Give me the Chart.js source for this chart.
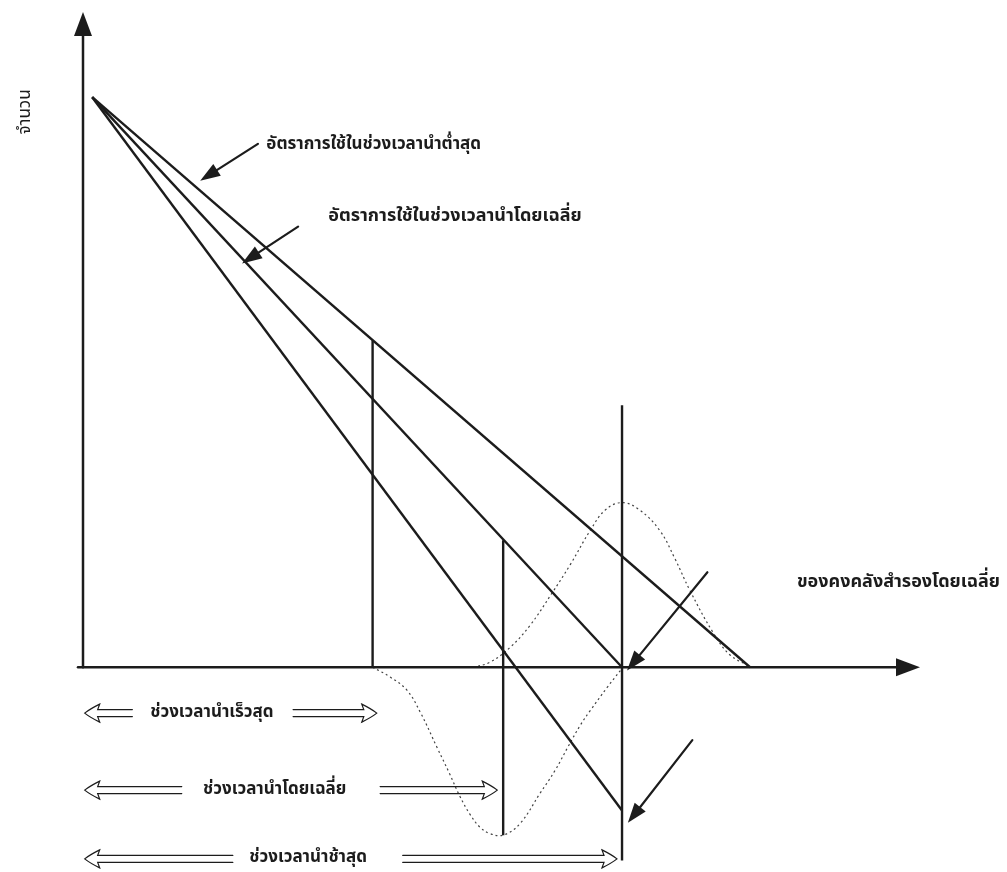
<!DOCTYPE html>
<html lang="th">
<head>
<meta charset="utf-8">
<title>ของคงคลังสำรองกับช่วงเวลานำ</title>
<script src="https://cdn.jsdelivr.net/npm/chart.js@4.4.1/dist/chart.umd.min.js"></script>
<style>
  html, body { margin: 0; padding: 0; background: #fff; }
  #wrap { position: relative; width: 1007px; height: 872px; }
</style>
</head>
<body>
<div id="wrap"><canvas id="chart"></canvas></div>
<script>
// ─── Data ──────────────────────────────────────────────────────────────────

// stock on hand when the order is placed, and where each usage rate runs out
const startPoint = { x: 1.1, y: 69.6 };
const usageEnds = [
  { x: 79.7, y: 0 },     // lowest usage rate
  { x: 64.4, y: 0 },     // average usage rate
  { x: 64.4, y: -17.5 }, // highest usage rate
];

// lead times: fastest, average, slowest
const leadTimes = [34.6, 50.2, 64.4];
const leadTopY = [39.9, 15.5, 32.0];
const leadBottomY = [0, -20.5, -23.6];

// distribution of stock left at the slowest lead time (above the axis)
const stockCurveX = [46.6, 48.6, 51.0, 53.4, 56.0, 58.2, 60.6, 62.4, 64.4, 66.5, 68.9, 70.7, 72.5, 75.3, 77.3, 79.7];
const stockCurveY = [0, 0.6, 2.4, 5.1, 9.0, 12.5, 16.7, 19.2, 20.1, 19.2, 16.7, 13.3, 9.4, 4.2, 1.5, 0.1];

// distribution of lead time (below the axis)
const leadCurveX = [34.6, 36.7, 38.7, 40.3, 42.3, 43.8, 45.0, 46.2, 47.4, 48.6, 50.2, 52.2, 54.6, 56.4, 57.9, 59.4, 60.6, 62.6, 64.2];
const leadCurveY = [0, -1.2, -2.8, -5.5, -9.8, -13.0, -15.7, -17.9, -19.5, -20.3, -20.5, -19.1, -15.4, -12.6, -9.8, -7.1, -5.3, -2.5, -0.4];

// call-out labels and their pointer arrows
const noteLabels = ["อัตราการใช้ในช่วงเวลานำต่ำสุด", "อัตราการใช้ในช่วงเวลานำโดยเฉลี่ย", "ของคงคลังสำรองโดยเฉลี่ย"];
const noteAnchors = [{ x: 21.9, y: 63.7 }, { x: 29.3, y: 54.9 }, { x: 85.3, y: 10.3 }];
const pointerFrom = [{ x: 20.9, y: 63.9 }, { x: 25.7, y: 53.8 }, { x: 74.6, y: 11.6 }, { x: 72.8, y: -8.9 }];
const pointerTo = [{ x: 14.0, y: 59.4 }, { x: 19.0, y: 49.3 }, { x: 65.0, y: -0.4 }, { x: 65.1, y: -19.0 }];

// lead time span rows under the axis
const leadLabels = ["ช่วงเวลานำเร็วสุด", "ช่วงเวลานำโดยเฉลี่ย", "ช่วงเวลานำช้าสุด"];
const leadRowY = [-5.6, -15.0, -23.4];
const leadLabelX = [15.4, 22.9, 26.9];
const leadLeftShaftEnd = [5.9, 11.8, 17.9];
const leadRightShaftStart = [25.1, 35.5, 38.2];
const leadArrowTip = [35.1, 49.5, 63.8];

const yTitle = "จำนวน";
const yTitleAt = { x: -6.7, y: 67.8 };

// ─── Helpers ───────────────────────────────────────────────────────────────

const INK = "#1c1c1c";
const THAI_FONT = '"Noto Sans Thai", "Noto Serif Thai", Loma, Garuda, "Tlwg Typo", "Noto Sans", "DejaVu Sans", sans-serif';

function zip(xs, ys) {
  return xs.map((v, i) => ({ x: v, y: ys[i] }));
}

function solidArrow(ctx, x1, y1, x2, y2, len, half) {
  const a = Math.atan2(y2 - y1, x2 - x1);
  ctx.beginPath();
  ctx.moveTo(x1, y1);
  ctx.lineTo(x2 - Math.cos(a) * len * 0.8, y2 - Math.sin(a) * len * 0.8);
  ctx.stroke();
  ctx.beginPath();
  ctx.moveTo(x2, y2);
  ctx.lineTo(x2 - Math.cos(a) * len + Math.sin(a) * half, y2 - Math.sin(a) * len - Math.cos(a) * half);
  ctx.lineTo(x2 - Math.cos(a) * len - Math.sin(a) * half, y2 - Math.sin(a) * len + Math.cos(a) * half);
  ctx.closePath();
  ctx.fill();
}

// hollow double-shaft arrow, pointing from tail to tip along a row
function hollowArrow(ctx, tail, tip, y) {
  const dir = tip > tail ? 1 : -1;
  const neck = tip - dir * 13;
  ctx.beginPath();
  ctx.moveTo(tail, y - 3.5);
  ctx.lineTo(neck, y - 3.5);
  ctx.lineTo(neck - dir * 2, y - 9);
  ctx.quadraticCurveTo(tip - dir * 5, y - 4, tip, y);
  ctx.quadraticCurveTo(tip - dir * 5, y + 4, neck - dir * 2, y + 9);
  ctx.lineTo(neck, y + 3.5);
  ctx.lineTo(tail, y + 3.5);
  ctx.stroke();
}

// ─── Diagram plugin ────────────────────────────────────────────────────────

const diagramPlugin = {
  id: "diagram",
  afterDatasetsDraw(chart) {
    const { ctx, scales } = chart;
    const px = (v) => scales.x.getPixelForValue(v);
    const py = (v) => scales.y.getPixelForValue(v);

    ctx.save();
    ctx.strokeStyle = INK;
    ctx.fillStyle = INK;
    ctx.lineCap = "round";

    // axes with arrow heads
    ctx.lineWidth = 2.5;
    solidArrow(ctx, px(0), py(0), px(0), py(scales.y.max), 24, 9);
    solidArrow(ctx, px(-0.6), py(0), px(scales.x.max), py(0), 24, 9);

    // pointers
    ctx.lineWidth = 2.2;
    pointerFrom.forEach((p, i) => {
      solidArrow(ctx, px(p.x), py(p.y), px(pointerTo[i].x), py(pointerTo[i].y), 20, 7);
    });

    // call-out text
    ctx.textBaseline = "middle";
    ctx.textAlign = "left";
    noteLabels.forEach((t, i) => {
      ctx.font = (i === 0 ? "bold 17px " : "bold 18px ") + THAI_FONT;
      ctx.fillText(t, px(noteAnchors[i].x), py(noteAnchors[i].y));
    });

    // lead time rows
    ctx.lineWidth = 1.2;
    ctx.textAlign = "center";
    ctx.font = "bold 17px " + THAI_FONT;
    leadLabels.forEach((t, i) => {
      const y = py(leadRowY[i]);
      hollowArrow(ctx, px(leadLeftShaftEnd[i]), px(0.2), y);
      hollowArrow(ctx, px(leadRightShaftStart[i]), px(leadArrowTip[i]), y);
      ctx.fillText(t, px(leadLabelX[i]), y);
    });

    // y axis title
    ctx.translate(px(yTitleAt.x), py(yTitleAt.y));
    ctx.rotate(-Math.PI / 2);
    ctx.font = "17px " + THAI_FONT;
    ctx.fillText(yTitle, 0, 0);
    ctx.restore();
  },
};

// ─── Chart ─────────────────────────────────────────────────────────────────

const solid = { borderColor: INK, borderWidth: 2.4, pointRadius: 0, showLine: true, tension: 0 };
const dotted = { borderColor: "#444", borderWidth: 1.2, borderDash: [2, 3], pointRadius: 0, showLine: true, tension: 0.4 };

const datasets = [
  ...usageEnds.map((end, i) => ({ label: "usage " + i, data: [startPoint, end], ...solid })),
  ...leadTimes.map((lt, i) => ({ label: "lead " + i, data: [{ x: lt, y: leadBottomY[i] }, { x: lt, y: leadTopY[i] }], ...solid })),
  { label: "stock", data: zip(stockCurveX, stockCurveY), ...dotted },
  { label: "lead time", data: zip(leadCurveX, leadCurveY), ...dotted },
];

new Chart(document.getElementById("chart"), {
  type: "scatter",
  data: { datasets },
  options: {
    responsive: true,
    maintainAspectRatio: false,
    animation: false,
    layout: { padding: { left: 83, right: 87, top: 12, bottom: 0 } },
    plugins: { legend: { display: false }, tooltip: { enabled: false } },
    scales: {
      x: { type: "linear", min: 0, max: 100, display: false },
      y: { type: "linear", min: -25, max: 80, display: false },
    },
  },
  plugins: [diagramPlugin],
});
</script>
</body>
</html>
